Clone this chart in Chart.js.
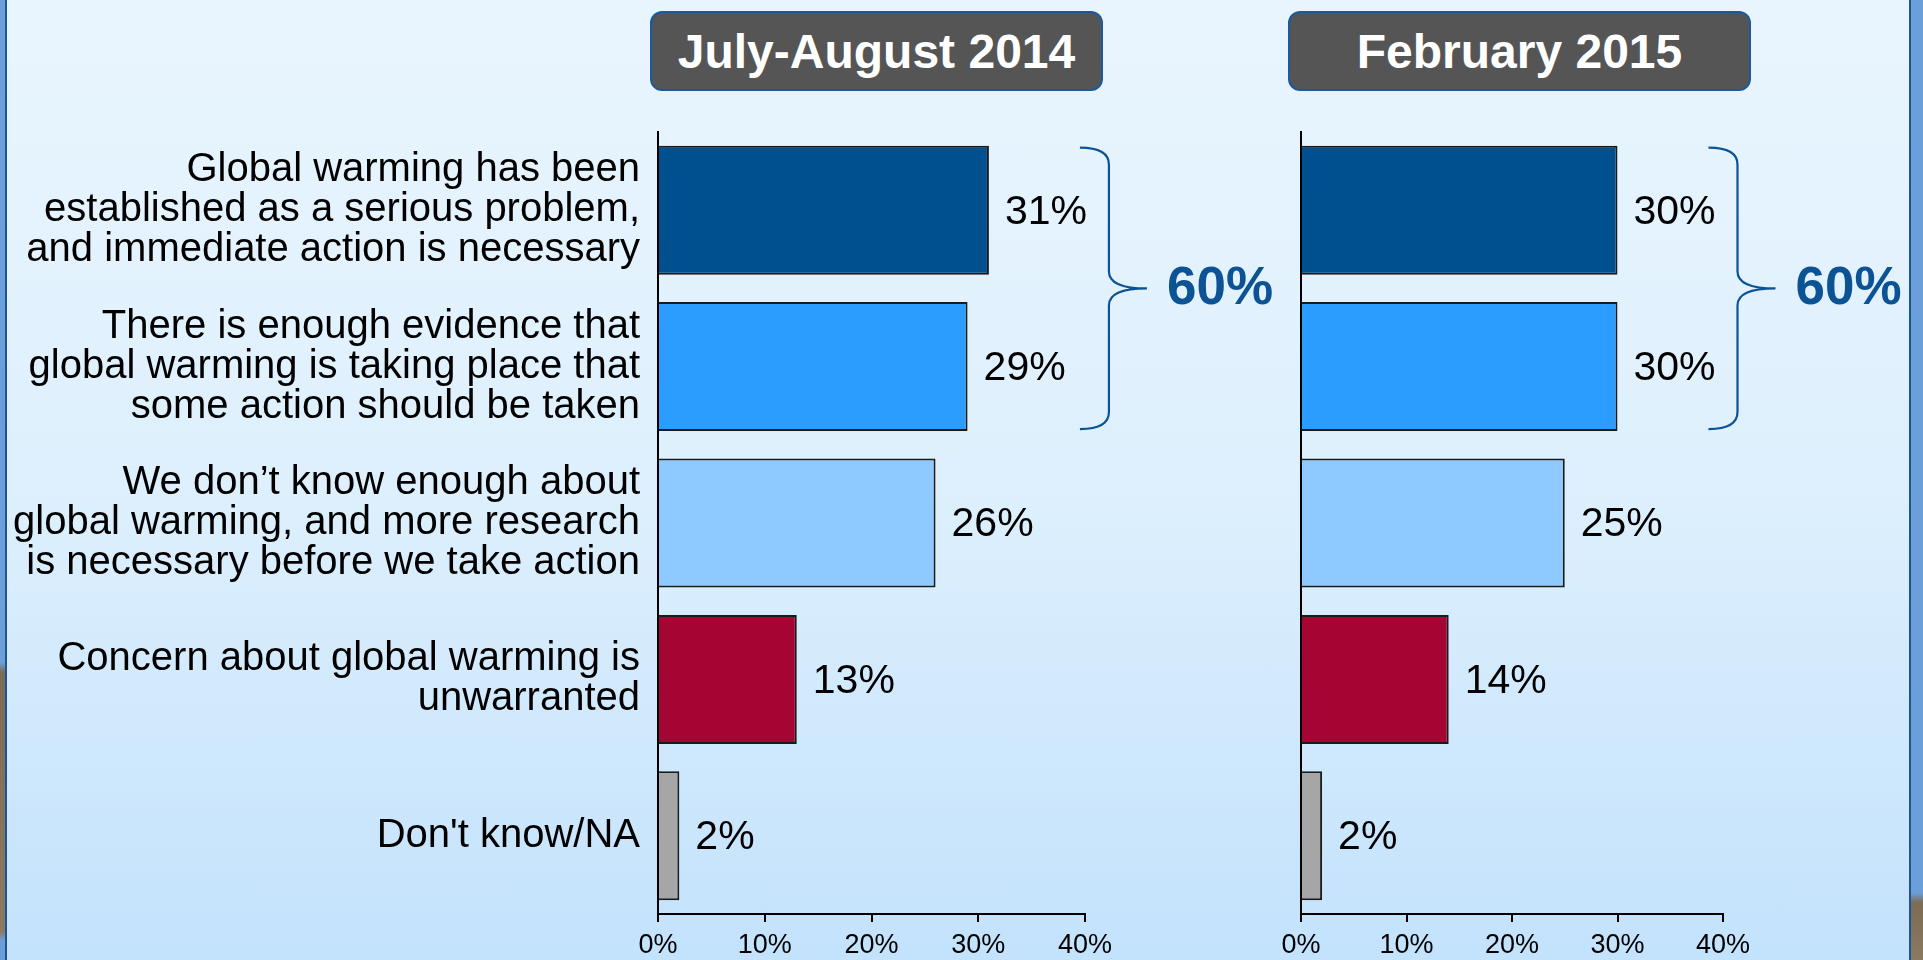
<!DOCTYPE html>
<html>
<head>
<meta charset="utf-8">
<title>Global warming opinion</title>
<script src="https://cdn.jsdelivr.net/npm/chart.js@4.4.1/dist/chart.umd.min.js"></script>
<style>
  html, body { margin: 0; padding: 0; }
  body {
    width: 1923px; height: 960px; overflow: hidden; position: relative;
    background: linear-gradient(to bottom, #E9F5FE 0%, #DEF0FD 50%, #C3E2FC 100%);
    font-family: "Liberation Sans", Arial, sans-serif;
  }
  .edge { position: absolute; top: 0; height: 960px; }
  #edgeL { left: 0; width: 5px; background: linear-gradient(to bottom, #6A9FD9 0%, #6A9FD9 69%, #7D6C55 70%, #8A7A60 97%, #6A9FD9 98%); }
  #edgeL2 { left: 5px; width: 2px; background: #1F5494; }
  #edgeR { left: 1909px; width: 2px; background: #1F5494; }
  #edgeR2 { left: 1911px; width: 12px; background: linear-gradient(to bottom, #6A9FD9 0%, #6A9FD9 93%, #7D6C55 94%, #8A7A60 100%); }
  .title-box {
    position: absolute; top: 11px; height: 80px; box-sizing: border-box;
    background: #555555; border: 2.5px solid #1C5A9B; border-radius: 12px;
    color: #fff; font-weight: bold; font-size: 48px;
    display: flex; align-items: center; justify-content: center;
  }
  canvas { position: absolute; top: 0; }
</style>
</head>
<body>
<div class="edge" id="edgeL"></div>
<div class="edge" id="edgeL2"></div>
<div class="edge" id="edgeR"></div>
<div class="edge" id="edgeR2"></div>

<div class="title-box" style="left:650px; width:453px;">July-August 2014</div>
<div class="title-box" style="left:1288px; width:463px;">February 2015</div>

<canvas id="chart2014" width="1285" height="960" style="left:0;"></canvas>
<canvas id="chart2015" width="660" height="960" style="left:1250px;"></canvas>

<script>
// categories, top to bottom
const categories = [
  ['Global warming has been', 'established as a serious problem,', 'and immediate action is necessary'],
  ['There is enough evidence that', 'global warming is taking place that', 'some action should be taken'],
  ['We don\u2019t know enough about', 'global warming, and more research', 'is necessary before we take action'],
  ['Concern about global warming is', 'unwarranted'],
  ["Don't know/NA"]
];

const values2014 = [31, 29, 26, 13, 2];
const values2015 = [30, 30, 25, 14, 2];

const barColors = ['#004F8E', '#2A9DFF', '#8ECAFF', '#A50533', '#A6A6A6'];

const xTicks = [0, 10, 20, 30, 40];

const FONT = '"Liberation Sans", Arial, sans-serif';

// value labels at bar ends + brace over the first two bars
const barLabels = {
  id: 'barLabels',
  afterDatasetsDraw(chart) {
    const ctx = chart.ctx;
    const meta = chart.getDatasetMeta(0);
    const data = chart.data.datasets[0].data;

    ctx.save();
    ctx.font = '41px ' + FONT;
    ctx.fillStyle = '#000';
    ctx.textAlign = 'left';
    ctx.textBaseline = 'middle';
    meta.data.forEach((bar, i) => {
      ctx.fillText(data[i] + '%', bar.x + 16, bar.y + 2);
    });

    // brace grouping the two "action" answers
    const b0 = meta.data[0], b1 = meta.data[1];
    const top = b0.y - b0.height / 2 + 2;
    const bottom = b1.y + b1.height / 2 - 2;
    const mid = (top + bottom) / 2;
    const x0 = Math.max(b0.x, b1.x) + 91;
    const xs = x0 + 29;
    const xt = x0 + 67;
    const r = 17;

    ctx.strokeStyle = '#0B5394';
    ctx.lineWidth = 2.2;
    ctx.beginPath();
    ctx.moveTo(x0, top);
    ctx.quadraticCurveTo(xs, top, xs, top + r);
    ctx.lineTo(xs, mid - r);
    ctx.quadraticCurveTo(xs, mid, xt, mid);
    ctx.moveTo(xt, mid);
    ctx.quadraticCurveTo(xs, mid, xs, mid + r);
    ctx.lineTo(xs, bottom - r);
    ctx.quadraticCurveTo(xs, bottom, x0, bottom);
    ctx.stroke();

    ctx.font = 'bold 53px ' + FONT;
    ctx.fillStyle = '#0B5394';
    ctx.fillText((data[0] + data[1]) + '%', xt + 20, mid + 1);
    ctx.restore();
  }
};

function makeChart(id, values, showLabels, yWidth, padLeft, padRight) {
  const ctx = document.getElementById(id).getContext('2d');
  return new Chart(ctx, {
    type: 'bar',
    data: {
      labels: categories,
      datasets: [{
        data: values,
        backgroundColor: barColors,
        borderColor: '#1A1A1A',
        borderWidth: 2,
        barPercentage: 0.825,
        categoryPercentage: 1.0
      }]
    },
    options: {
      indexAxis: 'y',
      responsive: false,
      animation: false,
      devicePixelRatio: 1,
      layout: { padding: { top: 132, left: padLeft, right: padRight, bottom: 0 } },
      plugins: {
        legend: { display: false },
        tooltip: { enabled: false }
      },
      scales: {
        x: {
          min: 0,
          max: 40,
          afterBuildTicks: (scale) => { scale.ticks = xTicks.map(v => ({ value: v })); },
          afterFit: (scale) => {
            scale.height = 46;
            scale.paddingLeft = 0;
            scale.paddingRight = 0;
          },
          grid: {
            display: true,
            drawOnChartArea: false,
            drawTicks: true,
            tickLength: 8,
            color: '#000',
            lineWidth: 2
          },
          border: { display: true, color: '#000', width: 2 },
          ticks: {
            color: '#000',
            padding: 7,
            maxRotation: 0,
            font: { family: FONT, size: 27 },
            callback: (v) => v + '%'
          }
        },
        y: {
          afterFit: (scale) => {
            scale.width = yWidth;
            scale.paddingTop = 0;
            scale.paddingBottom = 0;
          },
          grid: { display: false, drawTicks: false },
          border: { display: true, color: '#000', width: 2 },
          ticks: {
            display: showLabels,
            color: '#000',
            padding: 18,
            autoSkip: false,
            font: { family: FONT, size: 40, lineHeight: 1.0 }
          }
        }
      }
    },
    plugins: [barLabels]
  });
}

makeChart('chart2014', values2014, true, 658, 0, 200);
makeChart('chart2015', values2015, false, 51, 0, 187);
</script>
</body>
</html>
